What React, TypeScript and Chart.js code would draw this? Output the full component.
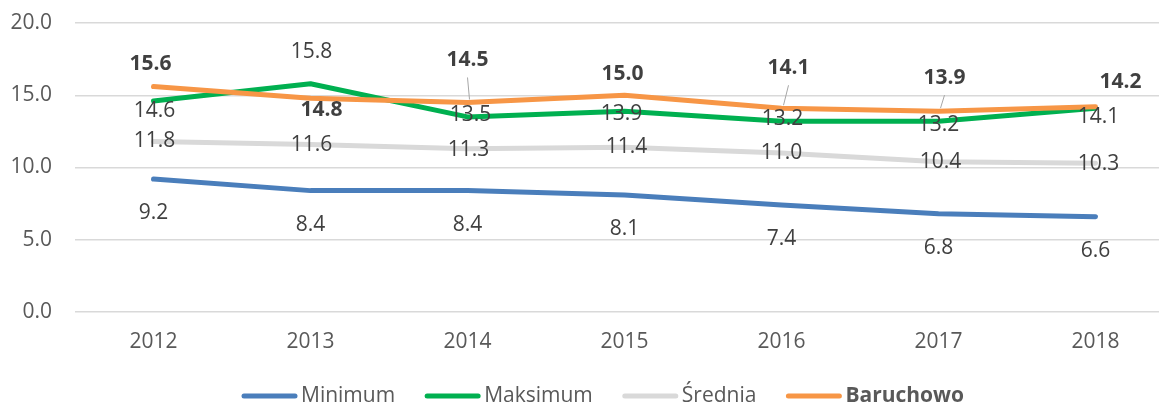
import React, { useEffect, useRef } from "react";
import { Chart, registerables } from "chart.js";

Chart.register(...registerables);

const years = ["2012", "2013", "2014", "2015", "2016", "2017", "2018"];
const minimum = [9.2, 8.4, 8.4, 8.1, 7.4, 6.8, 6.6];
const maksimum = [14.6, 15.8, 13.5, 13.9, 13.2, 13.2, 14.1];
const srednia = [11.8, 11.6, 11.3, 11.4, 11.0, 10.4, 10.3];
const baruchowo = [15.6, 14.8, 14.5, 15.0, 14.1, 13.9, 14.2];
const seriesNames = ["Minimum", "Maksimum", "Średnia", "Baruchowo"];
const yTicks = [0, 5, 10, 15, 20];

// label placement (pixel offsets from the point), styling only
const labelOffsets: { dx: number; dy: number; leader?: boolean }[][] = [
  [0, 0, 0, 0, 0, 0, 0].map(() => ({ dx: 0, dy: 34 })),
  [
    { dx: 1, dy: 10 },
    { dx: 1, dy: -32 },
    { dx: 3, dy: -2 },
    { dx: -3, dy: 3 },
    { dx: 1, dy: -2 },
    { dx: 0, dy: 4 },
    { dx: 3, dy: 9 },
  ],
  [
    { dx: 1, dy: 0 },
    { dx: 1, dy: 1 },
    { dx: 1, dy: 1 },
    { dx: 2, dy: 0 },
    { dx: 0, dy: 0 },
    { dx: 2, dy: 0 },
    { dx: 3, dy: 1 },
  ],
  [
    { dx: -3, dy: -23 },
    { dx: 11, dy: 12 },
    { dx: 0, dy: -42, leader: true },
    { dx: -2, dy: -21 },
    { dx: 7, dy: -40, leader: true },
    { dx: 6, dy: -33, leader: true },
    { dx: 25, dy: -25 },
  ],
];

const colors = ["#4a7ebb", "#00b050", "#d9d9d9", "#f79646"];
const FONT = "'Open Sans', 'Liberation Sans', sans-serif";

const labelPlugin = {
  id: "valueLabels",
  afterDatasetsDraw(chart: any) {
    const ctx = chart.ctx;
    ctx.save();
    ctx.textAlign = "center";
    ctx.textBaseline = "middle";
    chart.data.datasets.forEach((ds: any, di: number) => {
      const meta = chart.getDatasetMeta(di);
      meta.data.forEach((pt: any, i: number) => {
        const off = labelOffsets[di][i];
        const lx = pt.x + off.dx;
        const ly = pt.y + off.dy;
        if (off.leader) {
          ctx.strokeStyle = "#a6a6a6";
          ctx.lineWidth = 1;
          ctx.beginPath();
          ctx.moveTo(lx, ly + 17);
          ctx.lineTo(pt.x + 2, pt.y - 3);
          ctx.stroke();
        }
        ctx.font = (di === 3 ? "bold " : "") + "21px " + FONT;
        ctx.fillStyle = "#404040";
        ctx.fillText(ds.data[i].toFixed(1), lx, ly);
      });
    });
    ctx.restore();
  },
};

const legendPlugin = {
  id: "customLegend",
  afterDraw(chart: any) {
    const ctx = chart.ctx;
    ctx.save();
    const y = 396;
    let x = 242;
    ctx.textBaseline = "middle";
    ctx.textAlign = "left";
    seriesNames.forEach((name, i) => {
      ctx.strokeStyle = colors[i];
      ctx.lineWidth = 5;
      ctx.lineCap = "round";
      ctx.beginPath();
      ctx.moveTo(x + 2, y);
      ctx.lineTo(x + 53, y);
      ctx.stroke();
      x += 59;
      ctx.font = (i === 3 ? "bold " : "") + "21px " + FONT;
      ctx.fillStyle = "#595959";
      ctx.fillText(name, x, y);
      x += ctx.measureText(name).width + 30;
    });
    ctx.restore();
  },
};

export default function App() {
  const ref = useRef<HTMLCanvasElement>(null);
  useEffect(() => {
    if (!ref.current) return;
    const data = [minimum, maksimum, srednia, baruchowo];
    const chart = new Chart(ref.current, {
      type: "line",
      data: {
        labels: years,
        datasets: data.map((d, i) => ({
          label: seriesNames[i],
          data: d,
          borderColor: colors[i],
          backgroundColor: colors[i],
          borderWidth: 5,
          pointRadius: 0,
          borderCapStyle: "round",
          borderJoinStyle: "round",
          tension: 0,
          order: 3 - i,
        })),
      },
      options: {
        responsive: false,
        animation: false,
        layout: { padding: { top: 23, right: 2, left: 0, bottom: 40 } },
        plugins: {
          legend: { display: false },
          tooltip: { enabled: false },
        },
        scales: {
          x: {
            type: "category",
            offset: true,
            grid: { display: false, drawTicks: false },
            border: { display: false },
            ticks: {
              color: "#595959",
              font: { family: FONT, size: 21 },
              padding: 17,
              maxRotation: 0,
            },
            afterFit(scale: any) {
              scale.height = 53;
              scale.paddingLeft = 0;
              scale.paddingRight = 0;
            },
          },
          y: {
            min: 0,
            max: 20,
            afterBuildTicks(scale: any) {
              scale.ticks = yTicks.map((v) => ({ value: v }));
            },
            grid: { color: "#d9d9d9", lineWidth: 1.5, drawTicks: false },
            border: { display: false },
            ticks: {
              color: "#595959",
              font: { family: FONT, size: 21 },
              padding: 23,
              callback: (v: any) => Number(v).toFixed(1),
            },
            afterFit(scale: any) {
              scale.width = 75;
              scale.paddingTop = 0;
              scale.paddingBottom = 0;
            },
          },
        },
      },
      plugins: [labelPlugin, legendPlugin],
    });
    return () => chart.destroy();
  }, []);
  return (
    <div
      style={{
        position: "absolute",
        left: 0,
        top: 0,
        width: 1159,
        height: 405,
        overflow: "hidden",
        background: "#fff",
      }}
    >
      <canvas ref={ref} width={1176} height={405} style={{ display: "block" }} />
    </div>
  );
}
